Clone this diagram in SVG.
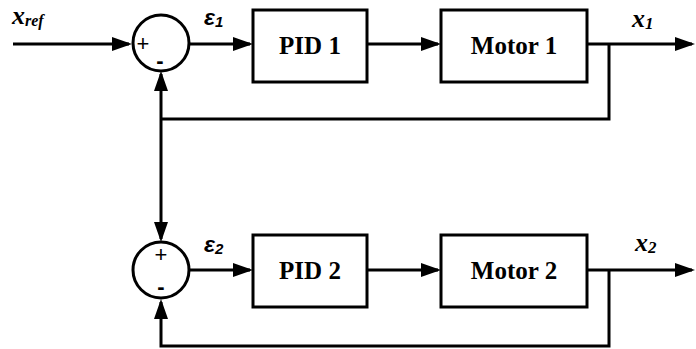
<svg xmlns="http://www.w3.org/2000/svg" width="696" height="349" viewBox="0 0 696 349">
<style>
.ln{fill:none;stroke:#000;stroke-width:3}
.arr{marker-end:url(#ah)}
.box{fill:#fff;stroke:#000;stroke-width:3}
.sum{fill:#fff;stroke:#000;stroke-width:3}
.bl{font-family:"Liberation Serif",serif;font-weight:bold;font-size:25px;text-anchor:middle}
.var{font-family:"Liberation Serif",serif;font-weight:bold;font-style:italic;font-size:26px}
.eps{font-family:"Liberation Sans",sans-serif;font-weight:bold;font-style:italic;font-size:23px}
.sg{font-family:"Liberation Sans",sans-serif;font-size:22px;text-anchor:middle}
</style>
<defs>
<marker id="ah" markerUnits="userSpaceOnUse" markerWidth="20" markerHeight="14" refX="17" refY="7" orient="auto">
<path d="M0,0 L20,7 L0,14 z" fill="#000"/>
</marker>
</defs>
<g id="connectors">
<path class="ln arr" d="M13,44 H129"/>
<path class="ln arr" d="M189,44 H250"/>
<path class="ln arr" d="M367,44 H438"/>
<path class="ln arr" d="M587,44 H692"/>
<path class="ln" d="M609,44 V119 H161"/>
<path class="ln arr" d="M161,119 V74"/>
<path class="ln arr" d="M161,119 V239"/>
<path class="ln arr" d="M189,270 H250"/>
<path class="ln arr" d="M367,270 H438"/>
<path class="ln arr" d="M587,270 H692"/>
<path class="ln arr" d="M609,270 V346 H161 V302"/>
</g>
<g id="xref"><text class="var" x="12" y="24">x<tspan font-size="16" dy="2">ref</tspan></text></g>
<g id="sum1">
<circle class="sum" cx="161" cy="43" r="28"/>
<text class="sg" x="143" y="51">+</text>
<text class="sg" x="160" y="68" font-weight="bold">-</text>
</g>
<g id="e1"><text class="eps" x="204" y="25">ε<tspan font-size="15" dy="2">1</tspan></text></g>
<g id="pid1">
<rect class="box" x="253" y="10" width="114" height="72"/>
<text class="bl" x="310" y="54">PID 1</text>
</g>
<g id="motor1">
<rect class="box" x="441" y="10" width="146" height="72"/>
<text class="bl" x="514" y="54">Motor 1</text>
</g>
<g id="x1"><text class="var" x="632" y="27">x<tspan font-size="17" dy="2">1</tspan></text></g>
<g id="sum2">
<circle class="sum" cx="161" cy="270" r="28"/>
<text class="sg" x="161" y="262">+</text>
<text class="sg" x="161" y="294" font-weight="bold">-</text>
</g>
<g id="e2"><text class="eps" x="204" y="252">ε<tspan font-size="15" dy="2">2</tspan></text></g>
<g id="pid2">
<rect class="box" x="253" y="235" width="114" height="72"/>
<text class="bl" x="310" y="279">PID 2</text>
</g>
<g id="motor2">
<rect class="box" x="441" y="235" width="146" height="72"/>
<text class="bl" x="514" y="279">Motor 2</text>
</g>
<g id="x2"><text class="var" x="635" y="251">x<tspan font-size="17" dy="2">2</tspan></text></g>
</svg>
